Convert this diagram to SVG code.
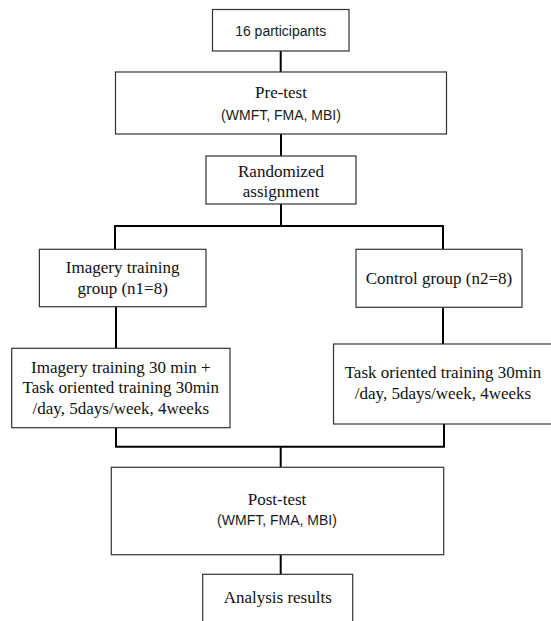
<svg xmlns="http://www.w3.org/2000/svg" width="551" height="621" viewBox="0 0 551 621">
<style>
.box{fill:#fff;stroke:#333;stroke-width:1.2}
.conn{fill:none;stroke:#000;stroke-width:2}
.serif{font-family:"Liberation Serif","DejaVu Serif",serif;font-size:17px;fill:#111;text-anchor:middle}
.sans{font-family:"Liberation Sans","DejaVu Sans",sans-serif;font-size:14px;fill:#1a1a1a;text-anchor:middle}
</style>
<rect width="551" height="621" fill="#fff"/>
<g id="connectors">
<path class="conn" d="M280.7 51V72"/>
<path class="conn" d="M281 134V156"/>
<path class="conn" d="M281 204V226M115 249.3V226H443V249.3"/>
<path class="conn" d="M116 306.7V348.3"/>
<path class="conn" d="M443 307.3V344"/>
<path class="conn" d="M116 427.7V446.7H444V424M280.7 446.7V467.3"/>
<path class="conn" d="M280.7 554.7V574.3"/>
</g>
<g id="participants">
<rect class="box" x="212.5" y="9.5" width="136.5" height="41.5"/>
<text class="sans" x="280.7" y="36">16 participants</text>
</g>
<g id="pretest">
<rect class="box" x="115.5" y="72" width="331" height="62"/>
<text class="serif" x="281" y="98">Pre-test</text>
<text class="sans" x="281" y="120">(WMFT, FMA, MBI)</text>
</g>
<g id="randomized">
<rect class="box" x="206" y="156" width="150" height="48"/>
<text class="serif" x="281" y="177">Randomized</text>
<text class="serif" x="281" y="197">assignment</text>
</g>
<g id="imagery-group">
<rect class="box" x="39.4" y="249.3" width="166.6" height="57.4"/>
<text class="serif" x="122.7" y="272.7">Imagery training</text>
<text class="serif" x="122.7" y="293.5">group (n1=8)</text>
</g>
<g id="control-group">
<rect class="box" x="356" y="249.3" width="166" height="58"/>
<text class="serif" x="439" y="283.5">Control group (n2=8)</text>
</g>
<g id="imagery-training">
<rect class="box" x="11.7" y="348.3" width="218.3" height="79.4"/>
<text class="serif" x="120.8" y="372.7">Imagery training 30 min +</text>
<text class="serif" x="120.8" y="393.3">Task oriented training 30min</text>
<text class="serif" x="120.8" y="414">/day, 5days/week, 4weeks</text>
</g>
<g id="control-training">
<rect class="box" x="333.5" y="344" width="230" height="80"/>
<text class="serif" x="443" y="378.3">Task oriented training 30min</text>
<text class="serif" x="443" y="399">/day, 5days/week, 4weeks</text>
</g>
<g id="posttest">
<rect class="box" x="111.3" y="467.3" width="332.4" height="87.4"/>
<text class="serif" x="277" y="505">Post-test</text>
<text class="sans" x="277" y="525">(WMFT, FMA, MBI)</text>
</g>
<g id="analysis">
<rect class="box" x="202.7" y="574.3" width="150" height="60"/>
<text class="serif" x="277.7" y="603">Analysis results</text>
</g>
</svg>
